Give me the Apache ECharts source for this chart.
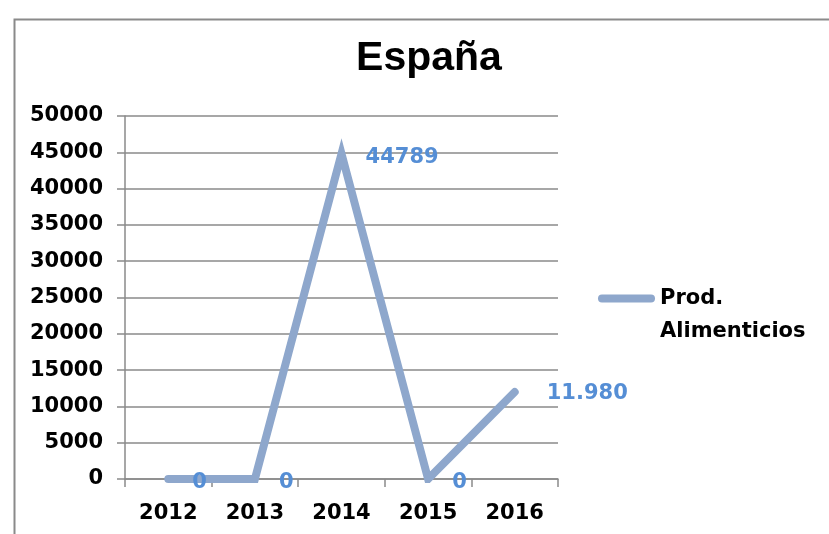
<!DOCTYPE html>
<html>
<head>
<meta charset="utf-8">
<script src="https://cdn.jsdelivr.net/npm/echarts@6/dist/echarts.min.js"></script>
<style>html,body{margin:0;padding:0;background:#fff;}#c{width:829px;height:534px;}</style>
</head>
<body>
<div id="c"></div>
<script>
var categories = ['2012', '2013', '2014', '2015', '2016'];
var values = [0, 0, 44789, 0, 11980];
var valueLabels = ['0', '0', '44789', '0', '11.980'];
var seriesName = 'Prod. Alimenticios';
var legendLines = ['Prod.', 'Alimenticios'];
var titleText = 'España';

var chart = echarts.init(document.getElementById('c'), null, {renderer: 'canvas'});
var titleFont = 'Liberation Sans, Arial, sans-serif';
var font = 'DejaVu Sans, sans-serif';
var seriesData = values.map(function (v, i) {
  var d = {value: v};
  if (i === values.length - 1) d.label = {offset: [8, 2]};
  return d;
});
chart.setOption({
  animation: false,
  backgroundColor: '#fff',
  graphic: [{
    type: 'rect', left: 12, top: 17, z: -1,
    shape: {width: 900, height: 600},
    style: {fill: 'none', stroke: '#8a8a8a', lineWidth: 2}
  }],
  title: {
    text: titleText, left: 424, top: 33, textAlign: 'center',
    textStyle: {fontFamily: titleFont, fontWeight: 'bold', fontSize: 41, color: '#000'}
  },
  legend: {
    left: 598, top: 249, padding: 0,
    icon: 'path://M4,0 h49 a4,4 0 0 1 0,8 h-49 a4,4 0 0 1 0,-8z',
    itemWidth: 57, itemHeight: 8,
    data: [{name: seriesName, itemStyle: {color: '#8EA7CC'}}],
    formatter: function () { return ' \n' + legendLines.join('\n'); },
    textStyle: {fontFamily: font, fontWeight: 'bold', fontSize: 21, color: '#000', lineHeight: 33}
  },
  grid: {left: 125, right: 271, top: 116, bottom: 55, containLabel: false},
  xAxis: {
    type: 'category', data: categories, boundaryGap: true,
    axisLine: {lineStyle: {color: '#8a8a8a', width: 1.5}},
    axisTick: {show: true, length: 8, lineStyle: {color: '#8a8a8a', width: 1.5}},
    axisLabel: {fontFamily: font, fontWeight: 'bold', fontSize: 21, color: '#000', margin: 24}
  },
  yAxis: {
    type: 'value', min: 0, max: 50000, interval: 5000,
    axisLine: {show: true, lineStyle: {color: '#8a8a8a', width: 1.5}},
    axisTick: {show: true, length: 8, lineStyle: {color: '#8a8a8a', width: 1.5}},
    splitLine: {lineStyle: {color: '#8a8a8a', width: 1.5}},
    axisLabel: {fontFamily: font, fontWeight: 'bold', fontSize: 21, color: '#000', margin: 22,
      formatter: function (v) { return String(v); }}
  },
  series: [{
    name: seriesName, type: 'line', data: seriesData,
    showSymbol: true, symbolSize: 0.1, symbol: 'circle',
    itemStyle: {color: '#8EA7CC'},
    lineStyle: {color: '#8EA7CC', width: 8, cap: 'round', join: 'miter'},
    label: {
      show: true, position: 'right', distance: 24, offset: [0, 4],
      formatter: function (p) { return valueLabels[p.dataIndex]; },
      fontFamily: font, fontWeight: 'bold', fontSize: 21, color: '#558ED5'
    }
  }]
});
</script>
</body>
</html>
